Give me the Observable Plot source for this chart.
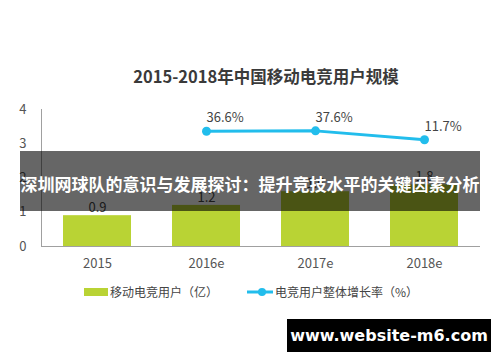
<!DOCTYPE html>
<html>
<head>
<meta charset="utf-8">
<script src="https://cdn.jsdelivr.net/npm/d3@7"></script>
<script src="https://cdn.jsdelivr.net/npm/@observablehq/plot@0.6"></script>
<style>
  html, body { margin: 0; padding: 0; background: #fff; }
  body { width: 500px; height: 362px; position: relative; overflow: hidden;
         font-family: "Noto Sans CJK SC", "Noto Sans", sans-serif; }
  .abs { position: absolute; }
  #title { left: 66px; width: 400px; top: 65px; text-align: center; font-size: 16.5px;
           font-weight: bold; color: #3a3a3a; line-height: 22px; white-space: nowrap; }
  #charts svg { position: absolute; left: 0; top: 0; }
  .legend { top: 284px; font-size: 12px; color: #444; line-height: 16px; white-space: nowrap; }
  #banner { left: 20px; top: 151px; width: 460px; height: 60px; background: rgba(0,0,0,0.6); }
  #bannerText { left: 0; width: 500px; top: 172px; text-align: center; color: #fff; font-size: 17px;
                font-weight: bold; line-height: 24px; white-space: nowrap; }
  #wm { left: 287px; top: 319px; width: 204px; height: 33px; background: #000; color: #fff;
        font-family: "DejaVu Sans", sans-serif; font-weight: bold; font-size: 16px;
        line-height: 33px; text-align: center; white-space: nowrap; }
</style>
</head>
<body>
<div id="title" class="abs"></div>
<div id="charts"></div>
<div id="legend"></div>
<div id="banner" class="abs"></div>
<div id="bannerText" class="abs"></div>
<div id="wm" class="abs"></div>
<script>
const titleText = "2015-2018年中国移动电竞用户规模";
const years = ["2015", "2016e", "2017e", "2018e"];
const users = [0.9, 1.2, 1.6, 1.8];
const growthYears = ["2016e", "2017e", "2018e"];
const growth = [36.6, 37.6, 11.7];
const yTicks = [0, 1, 2, 3, 4];
const legendBar = "移动电竞用户（亿）";
const legendLine = "电竞用户整体增长率（%）";
const bannerText = "深圳网球队的意识与发展探讨：提升竞技水平的关键因素分析";
const watermark = "www.website-m6.com";

const barColor = "#b9d334";
const lineColor = "#22bdec";
const axisColor = "#a0a0a0";
const textColor = "#555";
const font = "'Noto Sans CJK SC', 'Noto Sans', sans-serif";

const barData = years.map((y, i) => ({year: y, value: users[i]}));
const lineData = growthYears.map((y, i) => ({year: y, rate: growth[i]}));

const common = {
  width: 500, height: 362,
  marginTop: 109, marginBottom: 116, marginLeft: 41, marginRight: 20,
  style: {fontFamily: font, background: "transparent", overflow: "visible"}
};
const xCfg = {domain: years, paddingInner: 0.38, paddingOuter: 0.19, label: null};

const main = Plot.plot({
  ...common,
  x: xCfg,
  y: {domain: [0, 4], label: null},
  marks: [
    Plot.frame({anchor: "left", stroke: axisColor}),
    Plot.barY(barData, {x: "year", y: "value", fill: barColor}),
    Plot.ruleY([0], {stroke: axisColor}),
    Plot.axisY(yTicks, {tickSize: 0, tickPadding: 15, fontSize: 13, fill: textColor, label: null}),
    Plot.axisX({tickSize: 0, tickPadding: 12, fontSize: 13, fill: textColor, label: null}),
    Plot.text(barData, {x: "year", y: "value", text: d => d.value.toFixed(1), dy: -8,
      fontSize: 13, fill: "#444"})
  ]
});

const overlay = Plot.plot({
  ...common,
  x: {...xCfg, axis: null},
  y: {domain: [-300, 100], axis: null},
  marks: [
    Plot.line(lineData, {x: "year", y: "rate", stroke: lineColor, strokeWidth: 3}),
    Plot.dot(lineData, {x: "year", y: "rate", fill: lineColor, r: 4.5}),
    Plot.text(lineData, {x: "year", y: "rate", text: d => d.rate.toFixed(1) + "%", dy: -13,
      textAnchor: "start", fontSize: 13, fill: "#444"})
  ]
});

document.getElementById("charts").append(main, overlay);
document.getElementById("title").textContent = titleText;
document.getElementById("banner");
document.getElementById("bannerText").textContent = bannerText;
document.getElementById("wm").textContent = watermark;

// legend
const leg = document.getElementById("legend");
leg.innerHTML = `
  <div class="abs" style="left:84px;top:288px;width:24px;height:8px;background:${barColor}"></div>
  <div class="abs legend" style="left:110px">${legendBar}</div>
  <svg class="abs" style="left:246px;top:285px" width="28" height="14">
    <line x1="1" x2="27" y1="7" y2="7" stroke="${lineColor}" stroke-width="3"/>
    <circle cx="16" cy="7" r="4" fill="${lineColor}"/>
  </svg>
  <div class="abs legend" style="left:275px">${legendLine}</div>`;
</script>
</body>
</html>
